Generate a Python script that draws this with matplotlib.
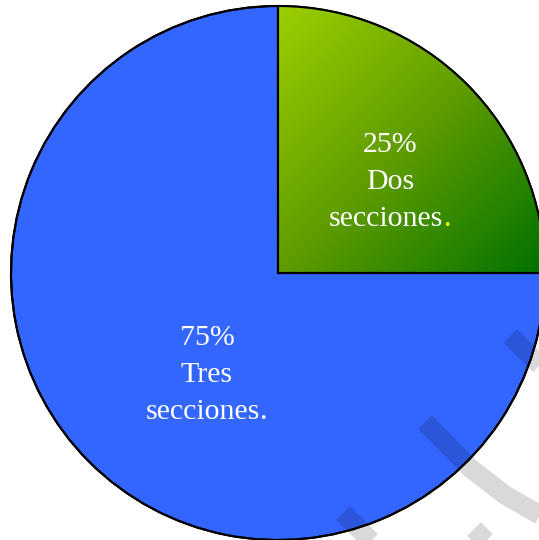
import numpy as np
import matplotlib
matplotlib.use("Agg")
import matplotlib.pyplot as plt
from matplotlib.colors import LinearSegmentedColormap

matplotlib.rcParams['font.family'] = ['Liberation Serif', 'DejaVu Serif']

# data
percents = [25, 75]
names = ['Dos\nsecciones', 'Tres\nsecciones']
colors = ['#66a800', '#3366ff']
dot_colors = ['#ffff00', 'white']

W, H = 539, 540
cx, cy, r = 278, 267, 267          # pie center / radius in pixel units (y up)

fig = plt.figure(figsize=(W / 100, H / 100), dpi=100, facecolor='white')
ax = fig.add_axes([0, 0, 1, 1])

wedges, _ = ax.pie(percents, colors=colors, startangle=90, counterclock=False,
                   center=(cx, cy), radius=r, frame=True,
                   wedgeprops=dict(edgecolor='black', linewidth=1.5))

# gradient fill on the small wedge (light yellow-green top-left -> dark green bottom-right)
green = LinearSegmentedColormap.from_list('g', ['#9ccf00', '#5f9c00', '#007200'])
n = 300
gx, gy = np.meshgrid(np.linspace(0, 1, n), np.linspace(0, 1, n))
grad = (gx + (1 - gy)) / 2.0
im = ax.imshow(grad, cmap=green, extent=[cx, cx + r, cy, cy + r], origin='lower',
               zorder=wedges[0].get_zorder() + 0.1, interpolation='bilinear')
im.set_clip_path(wedges[0])
# redraw the outline over the gradient
ax.pie(percents, colors=['none', 'none'], startangle=90,
       counterclock=False, center=(cx, cy), radius=r, frame=True,
       wedgeprops=dict(edgecolor='black', linewidth=1.5, zorder=5))

ax.set_xlim(0, W)
ax.set_ylim(0, H)
ax.set_aspect('equal')
ax.axis('off')

# labels, one text per line, anchored on the middle line
anchors = [(0.42, 0.341), (-0.266, -0.382)]
step = 37
fs = 21.5
pairs = []
for pct, name, dc, (fx, fy) in zip(percents, names, dot_colors, anchors):
    x0, y0 = cx + fx * r, cy + fy * r
    first, word = name.split('\n')
    ax.text(x0, y0 + step, f'{pct}%', ha='center', va='center',
            color='white', fontsize=fs, zorder=10)
    ax.text(x0, y0, first, ha='center', va='center',
            color='white', fontsize=fs, zorder=10)
    t1 = ax.text(x0, y0 - step, word, ha='left', va='center',
                 color='white', fontsize=fs, zorder=10)
    t2 = ax.text(x0, y0 - step, '.', ha='left', va='center',
                 color=dc, fontsize=fs, zorder=10)
    pairs.append((x0, t1, t2))

# center "word." as one line
fig.canvas.draw()
inv = ax.transData.inverted()
for x0, t1, t2 in pairs:
    b1 = t1.get_window_extent()
    b2 = t2.get_window_extent()
    w1 = inv.transform((b1.x1, 0))[0] - inv.transform((b1.x0, 0))[0]
    w2 = inv.transform((b2.x1, 0))[0] - inv.transform((b2.x0, 0))[0]
    left = x0 - (w1 + w2) / 2
    t1.set_x(left)
    t2.set_x(left + w1)

# grey watermark stripes
stripes = [
    [(425, 422), (470, 468), (505, 495), (545, 518)],
    [(510, 336), (545, 370)],
    [(343, 513), (373, 543)],
    [(474, 529), (492, 547)],
]
for s in stripes:
    xs = [p[0] for p in s]
    ys = [H - p[1] for p in s]
    ax.plot(xs, ys, color='black', alpha=0.15, lw=14, solid_capstyle='butt',
            solid_joinstyle='round', zorder=20)

fig.savefig('out.png', dpi=100, facecolor='white')
